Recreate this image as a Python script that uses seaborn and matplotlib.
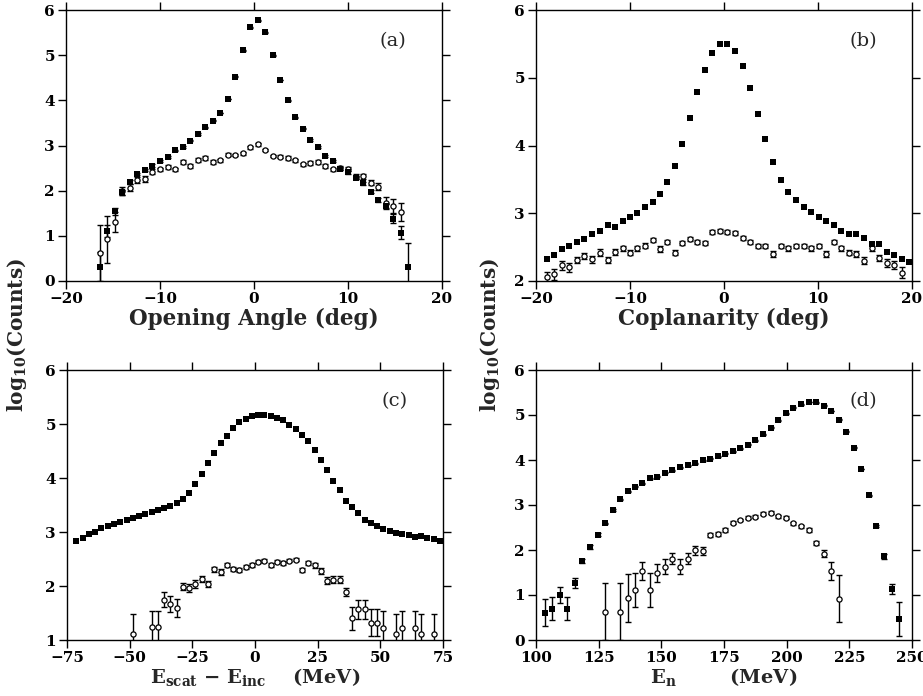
import numpy as np
import matplotlib
matplotlib.use("Agg")
import matplotlib.pyplot as plt
import seaborn as sns

# ---------------- data ----------------
# (a) Opening angle
A_X = [-16.4, -15.6, -14.8, -14.0, -13.2, -12.4, -11.6, -10.8, -10.0, -9.2, -8.4, -7.6, -6.8, -6.0,
       -5.2, -4.4, -3.6, -2.8, -2.0, -1.2, -0.4, 0.4, 1.2, 2.0, 2.8, 3.6, 4.4, 5.2, 6.0, 6.8, 7.6,
       8.4, 9.2, 10.0, 10.8, 11.6, 12.4, 13.2, 14.0, 14.8, 15.6, 16.4]
A_FILLED = [0.30, 1.11, 1.54, 1.96, 2.19, 2.37, 2.46, 2.55, 2.65, 2.75, 2.89, 2.97, 3.11, 3.25,
            3.40, 3.55, 3.72, 4.03, 4.52, 5.11, 5.62, 5.77, 5.51, 5.00, 4.45, 4.00, 3.62, 3.37,
            3.12, 2.97, 2.77, 2.65, 2.49, 2.41, 2.29, 2.16, 1.98, 1.79, 1.65, 1.38, 1.07, 0.30]
A_FILLED_ERR = [0.35, 0.14, 0.08, 0.05, 0.04, 0.03, 0.03, 0.03, 0.02, 0.02, 0.02, 0.02, 0.02, 0.02,
                0.01, 0.01, 0.01, 0.01, 0.01, 0.01, 0.01, 0.01, 0.01, 0.01, 0.01, 0.01, 0.01, 0.01,
                0.02, 0.02, 0.02, 0.02, 0.03, 0.03, 0.03, 0.04, 0.04, 0.05, 0.06, 0.10, 0.15, 0.55]
A_OPEN_X = [-16.4, -15.6, -14.8, -14.0, -13.2, -12.4, -11.6, -10.8, -10.0, -9.2, -8.4, -7.6, -6.8,
            -6.0, -5.2, -4.4, -3.6, -2.8, -2.0, -1.2, -0.4, 0.4, 1.2, 2.0, 2.8, 3.6, 4.4, 5.2, 6.0,
            6.8, 7.6, 8.4, 9.2, 10.0, 10.8, 11.6, 12.4, 13.2, 14.0, 14.8, 15.6]
A_OPEN = [0.62, 0.92, 1.31, 2.00, 2.07, 2.24, 2.26, 2.42, 2.47, 2.53, 2.47, 2.64, 2.55, 2.68, 2.72,
          2.63, 2.67, 2.80, 2.79, 2.83, 2.96, 3.03, 2.90, 2.77, 2.75, 2.72, 2.67, 2.58, 2.61, 2.64,
          2.55, 2.47, 2.50, 2.48, 2.31, 2.32, 2.18, 2.09, 1.73, 1.66, 1.52]
A_OPEN_ERR = [0.62, 0.52, 0.22, 0.09, 0.07, 0.06, 0.06, 0.05, 0.04, 0.04, 0.04, 0.04, 0.04, 0.04,
              0.04, 0.04, 0.04, 0.03, 0.03, 0.03, 0.03, 0.03, 0.03, 0.03, 0.03, 0.04, 0.04, 0.04,
              0.04, 0.04, 0.04, 0.04, 0.04, 0.05, 0.05, 0.06, 0.06, 0.07, 0.12, 0.15, 0.20]

# (b) Coplanarity
B_X = [-18.87, -18.09, -17.27, -16.45, -15.67, -14.86, -14.04, -13.23, -12.38, -11.60, -10.78,
       -10.00, -9.22, -8.40, -7.59, -6.81, -6.03, -5.25, -4.43, -3.65, -2.84, -2.02, -1.24, -0.43,
       0.35, 1.17, 1.99, 2.77, 3.62, 4.40, 5.21, 6.03, 6.84, 7.66, 8.48, 9.26, 10.07, 10.85, 11.67,
       12.48, 13.26, 14.08, 14.89, 15.71, 16.49, 17.30, 18.09, 18.90, 19.72]
B_FILLED = [2.325, 2.38, 2.47, 2.52, 2.58, 2.62, 2.70, 2.74, 2.83, 2.80, 2.89, 2.94, 3.00, 3.09,
            3.17, 3.29, 3.46, 3.70, 4.02, 4.40, 4.79, 5.12, 5.37, 5.50, 5.50, 5.40, 5.17, 4.85,
            4.47, 4.10, 3.75, 3.49, 3.31, 3.20, 3.09, 3.02, 2.95, 2.89, 2.83, 2.74, 2.69, 2.69,
            2.64, 2.54, 2.54, 2.43, 2.39, 2.33, 2.28]
B_OPEN_X = B_X[:48]
B_OPEN = [2.06, 2.10, 2.23, 2.20, 2.31, 2.37, 2.32, 2.42, 2.31, 2.43,
          2.48, 2.42, 2.48, 2.52, 2.60, 2.47, 2.57, 2.42, 2.56, 2.62,
          2.57, 2.56, 2.73, 2.74, 2.72, 2.71, 2.64, 2.57, 2.52, 2.52,
          2.40, 2.52, 2.48, 2.51, 2.51, 2.48, 2.52, 2.40, 2.57, 2.48,
          2.42, 2.40, 2.30, 2.48, 2.34, 2.26, 2.23, 2.12]
B_OPEN_ERR = [0.08, 0.08, 0.07, 0.07, 0.05, 0.05, 0.05, 0.05, 0.05, 0.04,
              0.04, 0.04, 0.04, 0.04, 0.03, 0.04, 0.03, 0.04, 0.03, 0.03,
              0.03, 0.03, 0.03, 0.03, 0.03, 0.03, 0.03, 0.03, 0.03, 0.03,
              0.04, 0.03, 0.03, 0.03, 0.03, 0.03, 0.03, 0.04, 0.03, 0.04,
              0.04, 0.04, 0.05, 0.04, 0.05, 0.06, 0.06, 0.08]

# (c) E_scat - E_inc
C_X = [-71.25, -68.75, -66.25, -63.75, -61.25, -58.75, -56.25, -53.75, -51.25, -48.75,
       -46.25, -43.75, -41.25, -38.75, -36.25, -33.75, -31.25, -28.75, -26.25, -23.75,
       -21.25, -18.75, -16.25, -13.75, -11.25, -8.75, -6.25, -3.75, -1.25, 1.25,
       3.75, 6.25, 8.75, 11.25, 13.75, 16.25, 18.75, 21.25, 23.75, 26.25,
       28.75, 31.25, 33.75, 36.25, 38.75, 41.25, 43.75, 46.25, 48.75, 51.25,
       53.75, 56.25, 58.75, 61.25, 63.75, 66.25, 68.75, 71.25, 73.75]
C_FILLED = [2.83, 2.89, 2.96, 3.00, 3.07, 3.12, 3.15, 3.18, 3.22, 3.26,
            3.29, 3.33, 3.37, 3.40, 3.45, 3.48, 3.54, 3.61, 3.73, 3.88,
            4.07, 4.27, 4.46, 4.64, 4.78, 4.93, 5.03, 5.09, 5.14, 5.16,
            5.16, 5.15, 5.11, 5.07, 4.99, 4.90, 4.79, 4.69, 4.52, 4.33,
            4.15, 3.95, 3.78, 3.58, 3.46, 3.35, 3.23, 3.17, 3.11, 3.05,
            3.02, 2.99, 2.97, 2.94, 2.91, 2.93, 2.89, 2.87, 2.84]
C_OPEN_X = [-48.75, -41.25, -38.75, -36.25, -33.75, -31.25, -28.75, -26.25, -23.75, -21.25,
            -18.75, -16.25, -13.75, -11.25, -8.75, -6.25, -3.75, -1.25, 1.25, 3.75,
            6.25, 8.75, 11.25, 13.75, 16.25, 18.75, 21.25, 23.75, 26.25, 28.75,
            31.25, 33.75, 36.25, 38.75, 41.25, 43.75, 46.25, 48.75, 51.25, 56.25,
            58.75, 63.75, 66.25, 71.25]
C_OPEN = [1.11, 1.24, 1.24, 1.75, 1.67, 1.59, 1.99, 1.96, 2.04, 2.13,
          2.04, 2.31, 2.26, 2.39, 2.31, 2.30, 2.35, 2.39, 2.45, 2.47,
          2.39, 2.45, 2.42, 2.47, 2.49, 2.30, 2.42, 2.38, 2.28, 2.10,
          2.12, 2.12, 1.89, 1.40, 1.57, 1.57, 1.32, 1.32, 1.23, 1.11,
          1.23, 1.23, 1.11, 1.11]
C_OPEN_ERR = [0.37, 0.30, 0.30, 0.14, 0.15, 0.17, 0.07, 0.07, 0.07, 0.06,
              0.06, 0.05, 0.05, 0.04, 0.04, 0.04, 0.04, 0.04, 0.03, 0.03,
              0.04, 0.03, 0.04, 0.03, 0.03, 0.04, 0.04, 0.04, 0.05, 0.06,
              0.07, 0.07, 0.08, 0.22, 0.18, 0.18, 0.25, 0.25, 0.30, 0.37,
              0.30, 0.30, 0.37, 0.37]

# (d) E_n
D_X = [103.5, 106.4, 109.4, 112.5, 115.6, 118.5, 121.5, 124.6, 127.7, 130.7,
       133.6, 136.7, 139.6, 142.4, 145.5, 148.4, 151.5, 154.4, 157.4, 160.5,
       163.4, 166.5, 169.5, 172.5, 175.5, 178.6, 181.5, 184.6, 187.5, 190.6,
       193.6, 196.5, 199.6, 202.7, 205.7, 208.8, 211.7, 214.8, 217.7, 220.7,
       223.8, 226.7, 229.8, 232.7, 235.8, 238.8, 241.9, 244.9]
D_FILLED = [0.61, 0.70, 1.00, 0.70, 1.27, 1.76, 2.07, 2.34, 2.59, 2.89,
            3.13, 3.31, 3.41, 3.48, 3.59, 3.63, 3.72, 3.77, 3.84, 3.88,
            3.93, 3.99, 4.03, 4.08, 4.14, 4.19, 4.26, 4.34, 4.44, 4.57,
            4.72, 4.88, 5.04, 5.16, 5.24, 5.29, 5.28, 5.21, 5.09, 4.90,
            4.63, 4.27, 3.80, 3.22, 2.53, 1.86, 1.14, 0.47]
D_FILLED_ERR = [0.30, 0.25, 0.17, 0.25, 0.11, 0.05, 0.04, 0.03, 0.02, 0.02,
                0.01, 0.01, 0.01, 0.01, 0.01, 0.01, 0.01, 0.01, 0.01, 0.01,
                0.01, 0.01, 0.01, 0.01, 0.01, 0.01, 0.01, 0.01, 0.01, 0.01,
                0.01, 0.01, 0.01, 0.01, 0.01, 0.01, 0.01, 0.01, 0.01, 0.01,
                0.01, 0.01, 0.01, 0.01, 0.02, 0.05, 0.11, 0.38]
D_OPEN_X = [127.7, 133.6, 136.7, 139.6, 142.4, 145.5, 148.4, 151.5, 154.4, 157.4,
            160.5, 163.4, 166.5, 169.5, 172.5, 175.5, 178.6, 181.5, 184.6, 187.5,
            190.6, 193.6, 196.5, 199.6, 202.7, 205.7, 208.8, 211.7, 214.8, 217.7, 220.7]
D_OPEN = [0.63, 0.63, 0.94, 1.11, 1.54, 1.11, 1.48, 1.63, 1.81, 1.63,
          1.81, 1.99, 1.97, 2.33, 2.36, 2.45, 2.61, 2.67, 2.72, 2.74,
          2.81, 2.83, 2.75, 2.72, 2.59, 2.53, 2.44, 2.16, 1.92, 1.53, 0.92]
D_OPEN_ERR = [0.63, 0.63, 0.53, 0.37, 0.20, 0.37, 0.20, 0.17, 0.13, 0.17,
              0.12, 0.09, 0.09, 0.05, 0.05, 0.04, 0.03, 0.03, 0.03, 0.03,
              0.03, 0.03, 0.03, 0.03, 0.03, 0.03, 0.04, 0.05, 0.08, 0.20, 0.53]

# ---------------- style ----------------
sns.set_theme(style="ticks")
plt.rcParams.update({
    "font.family": ["DejaVu Serif"],
    "font.weight": "bold",
    "mathtext.fontset": "custom",
    "mathtext.rm": "DejaVu Serif:bold",
    "mathtext.it": "DejaVu Serif:bold",
    "mathtext.bf": "DejaVu Serif:bold",
    "mathtext.default": "rm",
    "axes.linewidth": 1.0,
    "axes.edgecolor": "black",
    "xtick.color": "black",
    "ytick.color": "black",
})

W, H = 923, 696
fig = plt.figure(figsize=(W / 100, H / 100), dpi=100)
fig.patch.set_facecolor("white")


def add_ax(l, t, r, b):
    return fig.add_axes([l / W, 1 - b / H, (r - l) / W, (b - t) / H])


panels = [
    dict(box=(66, 10, 442, 281), xlim=(-20, 20), xt=[-20, -10, 0, 10, 20], ylim=(0, 6),
         yt=[0, 1, 2, 3, 4, 5, 6], fx=A_X, fy=A_FILLED, fe=A_FILLED_ERR,
         ox=A_OPEN_X, oy=A_OPEN, oe=A_OPEN_ERR, letter="(a)",
         xlabel="Opening Angle (deg)", xls=15.5),
    dict(box=(536, 10, 912, 281), xlim=(-20, 20), xt=[-20, -10, 0, 10, 20], ylim=(2, 6),
         yt=[2, 3, 4, 5, 6], fx=B_X, fy=B_FILLED, fe=None,
         ox=B_OPEN_X, oy=B_OPEN, oe=B_OPEN_ERR, letter="(b)",
         xlabel="Coplanarity (deg)", xls=15.5),
    dict(box=(67, 370, 443, 640), xlim=(-75, 75), xt=[-75, -50, -25, 0, 25, 50, 75], ylim=(1, 6),
         yt=[1, 2, 3, 4, 5, 6], fx=C_X, fy=C_FILLED, fe=None,
         ox=C_OPEN_X, oy=C_OPEN, oe=C_OPEN_ERR, letter="(c)",
         xlabel=r"E$_{\rm scat}$ $-$ E$_{\rm inc}$    (MeV)", xls=14),
    dict(box=(536, 370, 912, 640), xlim=(100, 250), xt=[100, 125, 150, 175, 200, 225, 250],
         ylim=(0, 6), yt=[0, 1, 2, 3, 4, 5, 6], fx=D_X, fy=D_FILLED, fe=D_FILLED_ERR,
         ox=D_OPEN_X, oy=D_OPEN, oe=D_OPEN_ERR, letter="(d)",
         xlabel=r"E$_{\rm n}$        (MeV)", xls=14),
]

for p in panels:
    ax = add_ax(*p["box"])
    ax.set_facecolor("white")
    if p["fe"] is not None:
        ax.errorbar(p["fx"], p["fy"], yerr=p["fe"], fmt="none", ecolor="black",
                    elinewidth=1.0, capsize=2.5, capthick=1.0, zorder=2)
    ax.errorbar(p["ox"], p["oy"], yerr=p["oe"], fmt="none", ecolor="black",
                elinewidth=1.0, capsize=2.5, capthick=1.0, zorder=2)
    sns.scatterplot(x=p["ox"], y=p["oy"], ax=ax, marker="o", s=14, facecolor="white",
                    edgecolor="black", linewidth=0.9, zorder=3)
    sns.scatterplot(x=p["fx"], y=p["fy"], ax=ax, marker="s", s=25, color="black",
                    linewidth=0, zorder=4)
    ax.set_xlim(*p["xlim"])
    ax.set_ylim(*p["ylim"])
    ax.set_xticks(p["xt"])
    ax.set_yticks(p["yt"])
    ax.tick_params(direction="out", length=6, width=1.0, top=True, right=True,
                   labeltop=False, labelright=False, labelsize=11, pad=2)
    for lab in ax.get_xticklabels() + ax.get_yticklabels():
        lab.set_fontweight("bold")
    for s in ax.spines.values():
        s.set_visible(True)
        s.set_linewidth(1.0)
    ax.set_xlabel(p["xlabel"], fontsize=p["xls"], fontweight="bold", labelpad=1)
    ax.set_ylabel("")
    ax.text(0.87, 0.885, p["letter"], transform=ax.transAxes, fontsize=14,
            fontweight="normal", ha="center", va="center")

fig.text(17 / W, 1 - 335 / H, r"log$_{10}$(Counts)", rotation=90, fontsize=14.5,
         fontweight="bold", ha="center", va="center")
fig.text(490 / W, 1 - 335 / H, r"log$_{10}$(Counts)", rotation=90, fontsize=14.5,
         fontweight="bold", ha="center", va="center")

fig.savefig("out.png", dpi=100, facecolor="white")
